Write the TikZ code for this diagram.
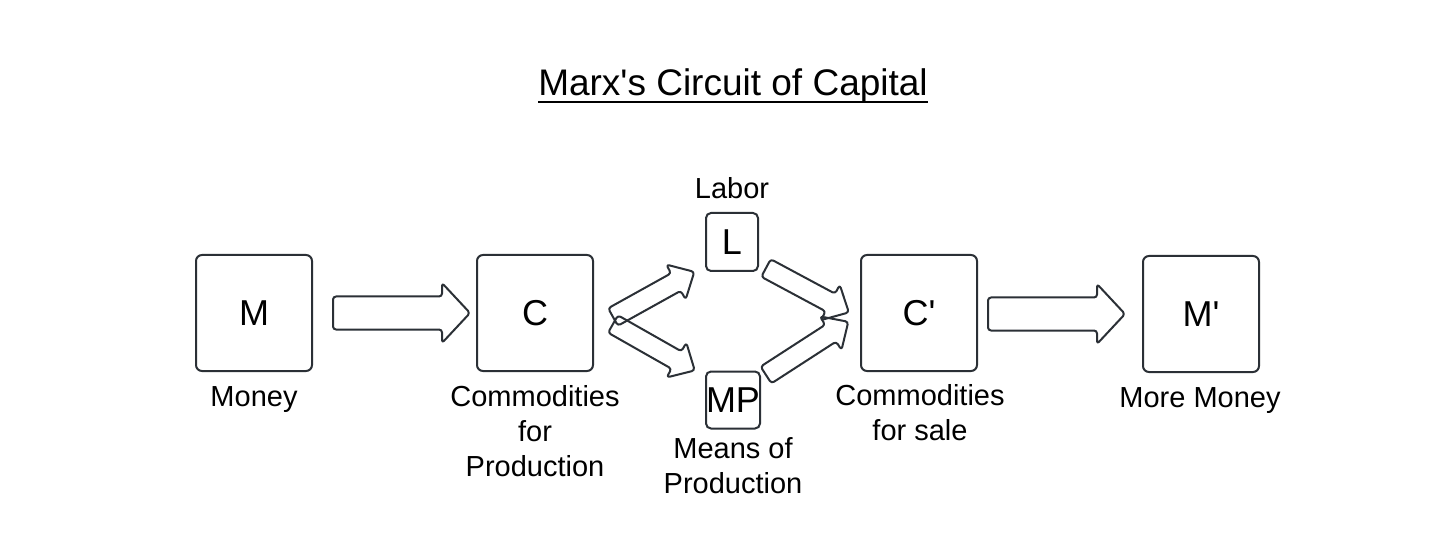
\documentclass[tikz,border=0pt]{standalone}
\usepackage{fontspec}
\setmainfont{Liberation Sans}
\definecolor{stroke}{HTML}{2B3036}
\begin{document}
\begin{tikzpicture}[x=1pt,y=-1pt,
  bigbox/.style={draw=stroke,line width=2pt,rounded corners=6pt,minimum width=116pt,minimum height=116pt,inner sep=0pt,font=\fontsize{36}{40}\selectfont},
  smallbox/.style={draw=stroke,line width=2pt,rounded corners=5pt,minimum width=52pt,minimum height=58pt,inner sep=0pt,font=\fontsize{36}{40}\selectfont},
  lbl/.style={anchor=north,inner sep=0pt,align=center,font=\fontsize{29}{35}\selectfont},
  arrowline/.style={draw=stroke,line width=2pt,rounded corners=3pt,line join=round},
  pics/barrow/.style args={#1/#2/#3/#4}{code={
    \draw[arrowline] (0,-#2/2) -- ({#1-#4},-#2/2) -- ({#1-#4},-#3/2) -- (#1,0) -- ({#1-#4},#3/2) -- ({#1-#4},#2/2) -- (0,#2/2) -- cycle;
  }}
]
\useasboundingbox[fill=white] (0,0) rectangle (1456,545);

% title
\node[inner sep=0pt,anchor=base,font=\fontsize{37}{40}\selectfont] (title) at (733,96) {Marx\textquotesingle s Circuit of Capital};
\draw[line width=2pt] ([yshift=-6pt]title.base west) -- ([yshift=-6pt]title.base east);

% boxes
\node[bigbox] (M) at (254,313) {M};
\node[bigbox] (C) at (535,313) {C};
\node[bigbox] (Cp) at (919,313) {C\textquotesingle};
\node[bigbox] (Mp) at (1201,314) {M\textquotesingle};
\node[smallbox] (L) at (732,242) {L};
\node[smallbox,minimum height=57pt] (MP) at (733,400) {MP};

% labels
\node[lbl] (lM) at (254,386) {Money};
\node[lbl] (lC) at (535,385) {Commodities\\for\\Production};
\node[lbl] (lL) at (732,177) {Labor};
\node[lbl] (lMP) at (733,437) {Means of\\Production};
\node[lbl] (lCp) at (920,384) {Commodities\\for sale};
\node[lbl] (lMp) at (1200,387) {More Money};

% block arrows
\pic at (333,313) {barrow=137/33/60/28};
\pic at (988,314) {barrow=137/33/60/28};
\pic[rotate=29.05] at (613,317) {barrow=93/20/40/21};
\pic[rotate=-29.6] at (613,324) {barrow=94/20/40/21};
\pic[rotate=-28.2] at (766,268) {barrow=94/20/40/21};
\pic[rotate=32.9] at (766,375) {barrow=98/20/40/21};
\end{tikzpicture}
\end{document}
